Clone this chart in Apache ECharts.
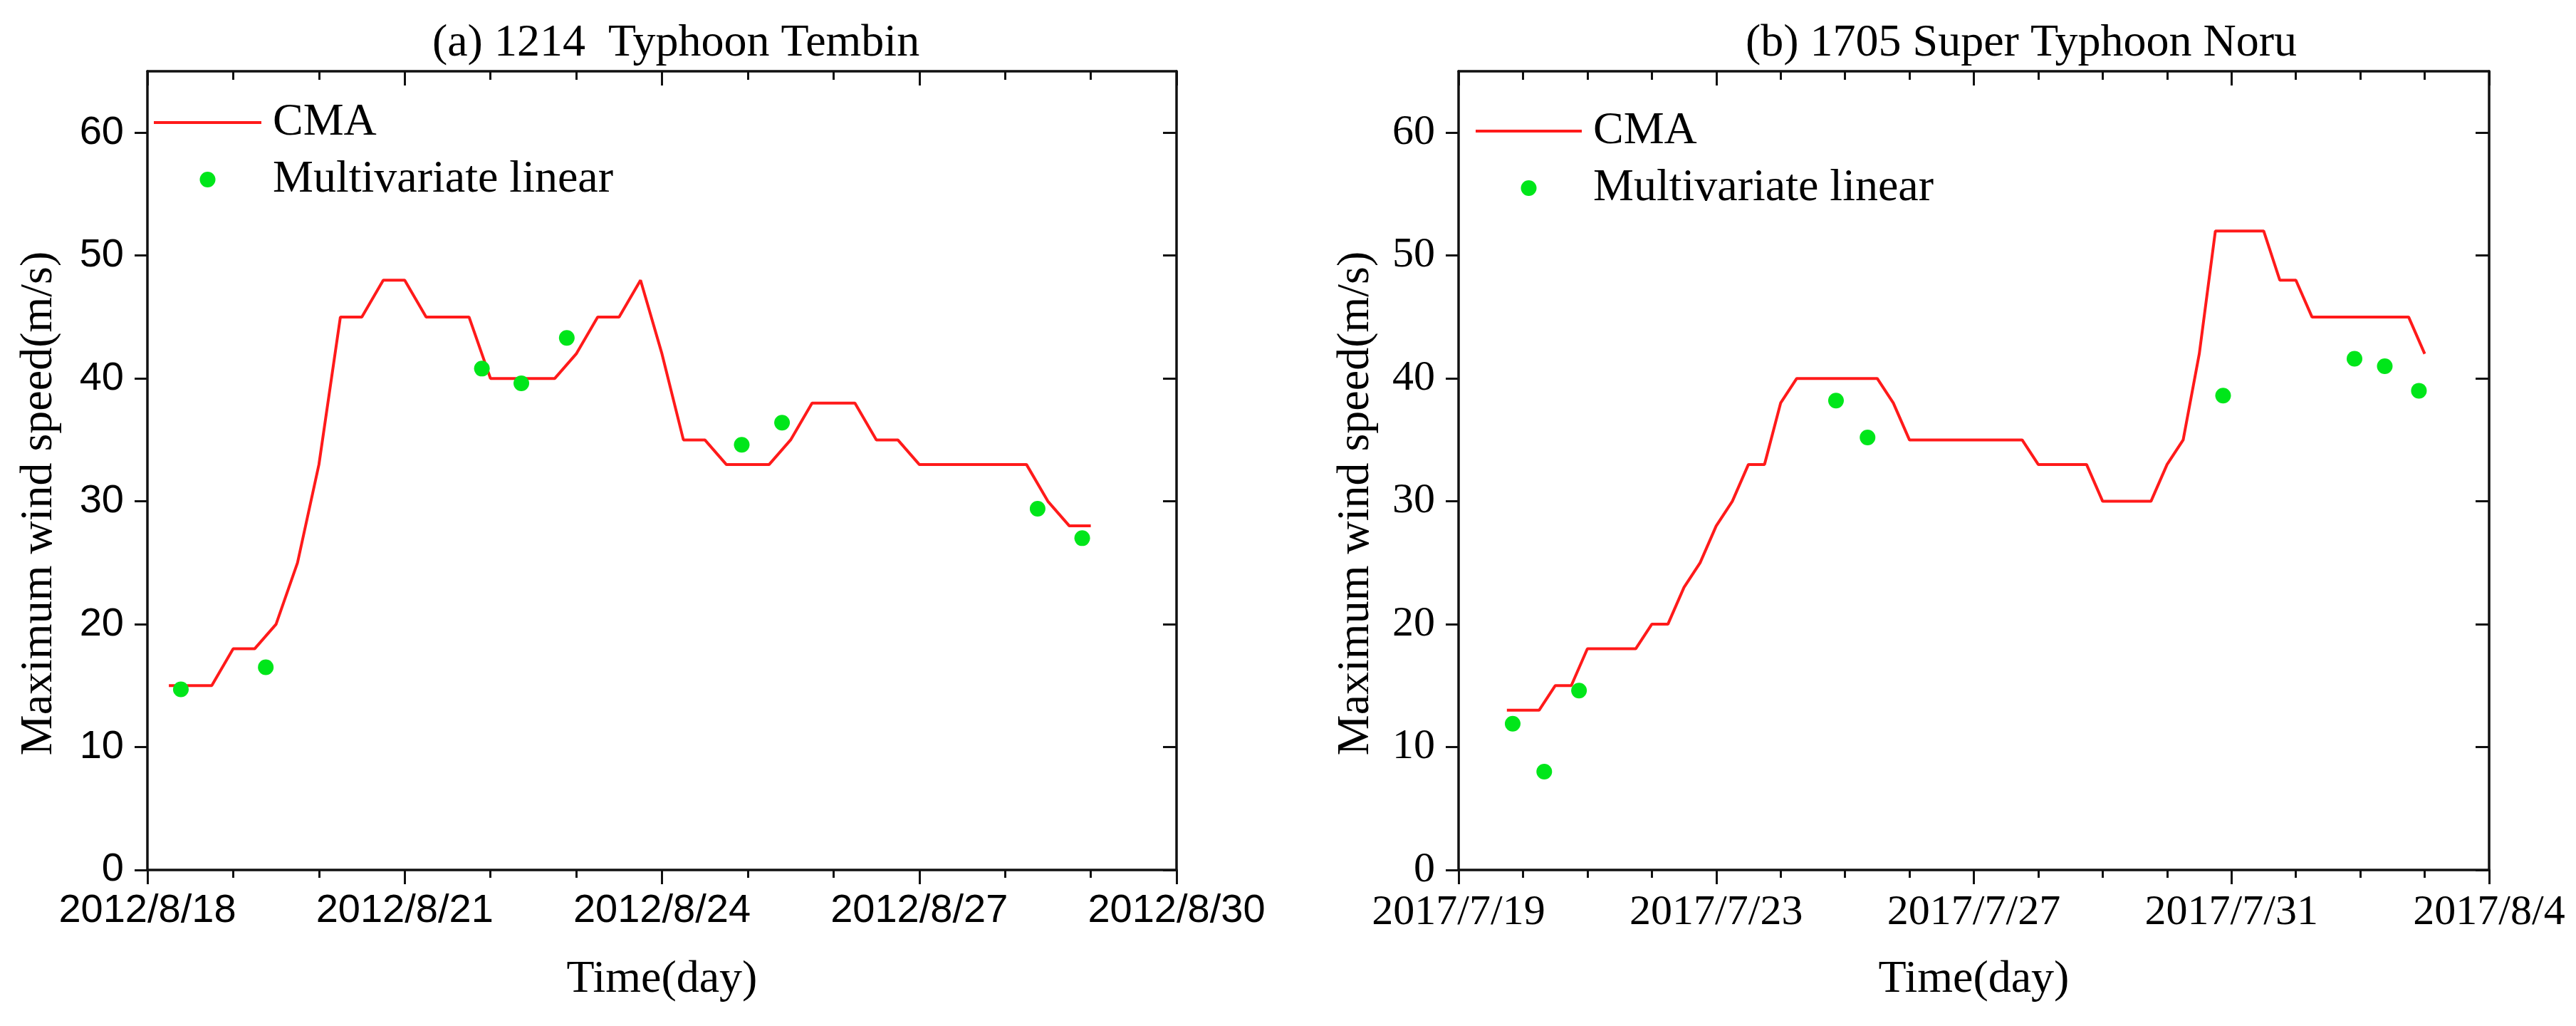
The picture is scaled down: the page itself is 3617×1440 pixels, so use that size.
<!DOCTYPE html>
<html>
<head>
<meta charset="utf-8">
<script src="https://cdn.jsdelivr.net/npm/echarts@6/dist/echarts.min.js"></script>
<style>
html,body{margin:0;padding:0;background:#fff;}
#chart{width:3617px;height:1440px;}
</style>
</head>
<body>
<div id="chart"></div>
<script>
// ---- Panel (a): 1214 Typhoon Tembin (x = days since 2012/8/18 00:00)
const cmaTimeA = [0.25,0.5,0.75,1.0,1.25,1.5,1.75,2.0,2.25,2.5,2.75,3.0,3.25,3.5,3.75,4.0,4.25,4.5,4.75,5.0,5.25,5.5,5.75,6.0,6.25,6.5,6.75,7.0,7.25,7.5,7.75,8.0,8.25,8.5,8.75,9.0,9.25,9.5,9.75,10.0,10.25,10.5,10.75,11.0];
const cmaWindA = [15,15,15,18,18,20,25,33,45,45,48,48,45,45,45,40,40,40,40,42,45,45,48,42,35,35,33,33,33,35,38,38,38,35,35,33,33,33,33,33,33,30,28,28];
const mlTimeA = [0.39,1.38,3.9,4.36,4.89,6.93,7.40,10.38,10.90];
const mlWindA = [14.7,16.5,40.8,39.6,43.3,34.6,36.4,29.4,27.0];
const xTickLabelsA = ['2012/8/18','2012/8/21','2012/8/24','2012/8/27','2012/8/30'];

// ---- Panel (b): 1705 Super Typhoon Noru (x = days since 2017/7/19 00:00)
const cmaTimeB = [0.75,1.0,1.25,1.5,1.75,2.0,2.25,2.5,2.75,3.0,3.25,3.5,3.75,4.0,4.25,4.5,4.75,5.0,5.25,5.5,5.75,6.0,6.25,6.5,6.75,7.0,7.25,7.5,7.75,8.0,8.25,8.5,8.75,9.0,9.25,9.5,9.75,10.0,10.25,10.5,10.75,11.0,11.25,11.5,11.75,12.0,12.25,12.5,12.75,13.0,13.25,13.5,13.75,14.0,14.25,14.5,14.75,15.0];
const cmaWindB = [13,13,13,15,15,18,18,18,18,20,20,23,25,28,30,33,33,38,40,40,40,40,40,40,38,35,35,35,35,35,35,35,35,33,33,33,33,30,30,30,30,33,35,42,52,52,52,52,48,48,45,45,45,45,45,45,45,42];
const mlTimeB = [0.84,1.33,1.87,5.86,6.35,11.87,13.91,14.38,14.91];
const mlWindB = [11.9,8.0,14.6,38.2,35.2,38.6,41.6,41.0,39.0];
const xTickLabelsB = ['2017/7/19','2017/7/23','2017/7/27','2017/7/31','2017/8/4'];

const yTicks = [0,10,20,30,40,50,60];
const yTickLabels = ['0','10','20','30','40','50','60'];
const titles = ['(a) 1214  Typhoon Tembin','(b) 1705 Super Typhoon Noru'];
const seriesNames = ['CMA','Multivariate linear'];

const SERIF = 'Liberation Serif';
const SANS = 'Liberation Sans';
const AX = '#111';
const RED = '#ff1a1a';
const GREEN = '#00e61a';
const pairs = (xs, ys) => xs.map((x, i) => [x, ys[i]]);

const grids = [
  {left: 207, top: 100, width: 1445, height: 1121},
  {left: 2048, top: 100, width: 1447, height: 1121}
];
const xCfg = [
  {max: 12, interval: 3, split: 3, labels: xTickLabelsA, font: SANS, fs: 56, margin: 30},
  {max: 16, interval: 4, split: 4, labels: xTickLabelsB, font: SERIF, fs: 60, margin: 30}
];

const xAxes = [], yAxes = [];
[0,1].forEach(g => {
  const c = xCfg[g];
  xAxes.push({
    type: 'value', gridIndex: g, position: 'bottom', min: 0, max: c.max, interval: c.interval,
    axisLine: {show: true, onZero: false, lineStyle: {color: AX, width: 3.5}},
    axisTick: {show: true, length: 20, lineStyle: {color: AX, width: 3}},
    minorTick: {show: true, splitNumber: c.split, length: 11, lineStyle: {color: AX, width: 3}},
    splitLine: {show: false}, minorSplitLine: {show: false},
    axisLabel: {show: true, margin: c.margin, fontFamily: c.font, fontSize: c.fs, color: '#000',
      formatter: v => c.labels[Math.round(v / c.interval)] || ''},
    name: 'Time(day)', nameLocation: 'middle', nameGap: 122,
    nameTextStyle: {fontFamily: SERIF, fontSize: 64, color: '#000'}
  });
  xAxes.push({
    type: 'value', gridIndex: g, position: 'top', min: 0, max: c.max, interval: c.interval,
    axisLine: {show: true, onZero: false, lineStyle: {color: AX, width: 3.5}},
    axisTick: {show: true, inside: true, length: 20, lineStyle: {color: AX, width: 3}},
    minorTick: {show: true, splitNumber: c.split, length: 12, lineStyle: {color: AX, width: 3}},
    splitLine: {show: false}, axisLabel: {show: false}
  });
  yAxes.push({
    type: 'value', gridIndex: g, position: 'left', min: 0, max: 65,
    axisLine: {show: true, onZero: false, lineStyle: {color: AX, width: 3.5}},
    axisTick: {show: true, length: 18, customValues: yTicks, lineStyle: {color: AX, width: 3}},
    splitLine: {show: false},
    axisLabel: {show: true, margin: 33, customValues: yTicks, fontFamily: g === 0 ? SANS : SERIF,
      fontSize: g === 0 ? 56 : 60, color: '#000',
      formatter: v => yTickLabels[yTicks.indexOf(v)] || ''},
    name: 'Maximum wind speed(m/s)', nameLocation: 'middle', nameGap: g === 0 ? 120 : 112,
    nameTextStyle: {fontFamily: SERIF, fontSize: 64, color: '#000', padding: [0, 92, 0, 0]}
  });
  yAxes.push({
    type: 'value', gridIndex: g, position: 'right', min: 0, max: 65,
    axisLine: {show: true, onZero: false, lineStyle: {color: AX, width: 3.5}},
    axisTick: {show: true, inside: true, length: 19, customValues: yTicks, lineStyle: {color: AX, width: 3}},
    splitLine: {show: false}, axisLabel: {show: false}
  });
});

const series = [];
[[cmaTimeA, cmaWindA, mlTimeA, mlWindA], [cmaTimeB, cmaWindB, mlTimeB, mlWindB]].forEach((d, g) => {
  series.push({
    name: seriesNames[0], type: 'line', xAxisIndex: 2 * g, yAxisIndex: 2 * g,
    data: pairs(d[0], d[1]), symbol: 'none', showSymbol: false, z: 2,
    lineStyle: {color: RED, width: 4}, itemStyle: {color: RED}
  });
  series.push({
    name: seriesNames[1], type: 'scatter', xAxisIndex: 2 * g, yAxisIndex: 2 * g,
    data: pairs(d[2], d[3]), symbol: 'circle', symbolSize: 22, z: 3,
    itemStyle: {color: GREEN, opacity: 1}
  });
});

const legendBase = (left, top, w) => ({
  left: left, top: top, orient: 'vertical', itemWidth: w, itemHeight: 22, itemGap: 16,
  data: [
    {name: seriesNames[0], itemStyle: {opacity: 0}, lineStyle: {color: RED, width: 4}},
    {name: seriesNames[1]}
  ],
  selectedMode: false,
  textStyle: {fontFamily: SERIF, fontSize: 64, lineHeight: 64, color: '#000', padding: [0, 0, 0, 11]}
});

const option = {
  backgroundColor: '#fff',
  animation: false,
  title: [
    {text: titles[0], left: 944, top: 24, textAlign: 'center',
      textStyle: {fontFamily: SERIF, fontSize: 64, fontWeight: 'normal', color: '#000'}},
    {text: titles[1], left: 2833, top: 24, textAlign: 'center',
      textStyle: {fontFamily: SERIF, fontSize: 64, fontWeight: 'normal', color: '#000'}}
  ],
  legend: [legendBase(209, 135, 151), legendBase(2065, 147, 149)],
  grid: grids,
  xAxis: xAxes,
  yAxis: yAxes,
  series: series
};

const chart = echarts.init(document.getElementById('chart'), null, {renderer: 'canvas'});
chart.setOption(option);
</script>
</body>
</html>
